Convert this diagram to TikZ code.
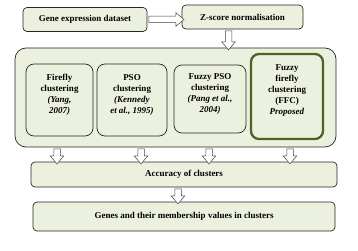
\documentclass[tikz,border=0pt]{standalone}
\usepackage{fontspec}
\setmainfont{Liberation Serif}
\usetikzlibrary{positioning, calc, shapes.arrows}
\definecolor{boxfill}{HTML}{EBF1DE}
\definecolor{ffcgreen}{HTML}{4F6228}

\begin{document}
\begin{tikzpicture}[
        x=1pt, y=-1pt,
        box/.style={draw=black!85, line width=0.7pt, fill=boxfill, rounded corners=4pt,
                    align=center, font=\fontsize{9}{10.8}\selectfont\bfseries},
        topbox/.style={box, minimum height=24pt},
        method/.style={box, rounded corners=8pt, minimum height=72pt, text depth=12pt},
        hollow/.style={single arrow, draw=black!75, fill=white, line width=0.5pt,
                       inner sep=3pt, single arrow head extend=3.5pt,
                       single arrow tip angle=80, minimum height=#1,
                       sloped, allow upside down},
    ]
        \useasboundingbox (0,0) rectangle (358,251);

        % top row: data and normalisation
        \node[topbox, minimum width=124pt] (gene)   at (85,19.5)  {Gene expression dataset};
        \node[topbox, minimum width=121pt] (zscore) at (242.5,17) {Z-score normalisation};

        % container with the four clustering methods
        \node[box, rounded corners=11pt, minimum width=321pt, minimum height=99pt] (cont) at (175.5,97.5) {};
        \node[method, minimum width=67pt] (firefly) at (59.5,100) {Firefly\\clustering\\\textit{(Yang,}\\\textit{2007)}};
        \node[method, minimum width=70pt] (pso)     at (132,100)  {PSO\\clustering\\\textit{(Kennedy}\\\textit{et al., 1995)}};
        \node[method, minimum width=72pt, minimum height=68pt] (fpso) at (210,99)
            {Fuzzy PSO\\clustering\\\textit{(Pang et al.,}\\\textit{2004)}};
        \node[method, minimum width=72pt, minimum height=85pt, draw=ffcgreen, line width=2.3pt,
              text depth=14pt] (ffc) at (287,96.5)
            {Fuzzy\\firefly\\clustering\\(FFC)\\\textit{Proposed}};

        % bottom row: evaluation and result
        \node[box, minimum width=306pt, minimum height=25pt] (acc)   at (184,174.5) {Accuracy of clusters};
        \node[box, minimum width=302pt, minimum height=29pt] (genes) at (184,216.5) {Genes and their membership values in clusters};

        % block arrows
        \path (gene.east) -- node[hollow=35pt] {} (gene.east -| zscore.west);
        \path ([xshift=-14pt]zscore.south) -- node[hollow=19pt] {} ([xshift=-14pt]zscore.south |- cont.north);
        \foreach \m/\dx in {firefly/-2.5, pso/9, fpso/-1, ffc/3}
            \path ([xshift=\dx pt]\m.south |- cont.south) -- node[hollow=15pt] {} ([xshift=\dx pt]\m.south |- acc.north);
        \path ([xshift=-6pt]acc.south) -- node[hollow=15pt] {} ([xshift=-6pt]genes.north);
    \end{tikzpicture}
\end{document}
